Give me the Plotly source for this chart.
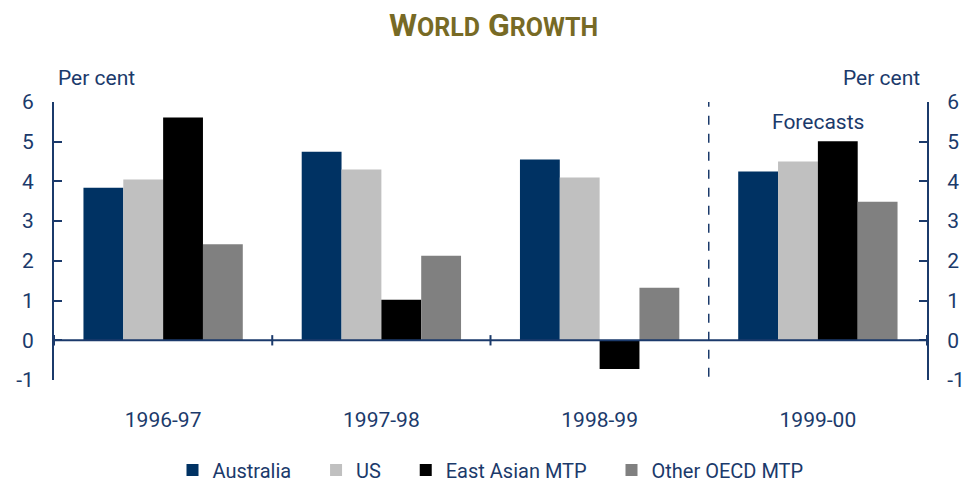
import plotly.graph_objects as go

categories = ["1996-97", "1997-98", "1998-99", "1999-00"]
australia = [3.84, 4.75, 4.55, 4.25]
us = [4.05, 4.30, 4.10, 4.50]
east_asian = [5.61, 1.02, -0.72, 5.01]
other_oecd = [2.42, 2.13, 1.32, 3.49]
y_ticks = [-1, 0, 1, 2, 3, 4, 5, 6]
y_ticktext = ["-1", "0", "1", "2", "3", "4", "5", "6"]
series_names = ["Australia", "US", "East Asian MTP", "Other OECD MTP"]

NAVY = "#1b3a6b"
FONT = "Roboto, Open Sans, sans-serif"
PAD = "\u00a0" * 4

series = [
    (series_names[0], australia, "#003263"),
    (series_names[1], us, "#c0c0c0"),
    (series_names[2], east_asian, "#000000"),
    (series_names[3], other_oecd, "#808080"),
]

fig = go.Figure()
xs = list(range(len(categories)))
for i, (name, vals, col) in enumerate(series):
    label = name + (PAD if i < len(series) - 1 else "")
    fig.add_trace(go.Bar(x=xs, y=vals, name=label, marker=dict(color=col, line=dict(width=0))))
# invisible trace to activate the right-hand axis
fig.add_trace(go.Scatter(x=[0], y=[0], yaxis="y2", mode="markers",
                         marker=dict(opacity=0), showlegend=False, hoverinfo="skip"))

shapes = [
    dict(type="line", xref="x", yref="y", x0=-0.5, x1=3.5, y0=0, y1=0,
         line=dict(color=NAVY, width=2)),
]
for xv in [-0.5, 0.5, 1.5, 3.5]:
    shapes.append(dict(type="line", xref="x", yref="y", x0=xv, x1=xv, y0=-0.13, y1=0.13,
                       line=dict(color=NAVY, width=2)))
shapes.append(dict(type="line", xref="x", yref="y", x0=2.5, x1=2.5, y0=-0.92, y1=6,
                   line=dict(color=NAVY, width=1.5, dash="dash")))

axis_common = dict(range=[-1, 6], tickvals=y_ticks, ticktext=y_ticktext,
                   ticks="inside", ticklen=8, tickwidth=2,
                   tickcolor=NAVY, showline=True, linecolor=NAVY, linewidth=2,
                   showgrid=False, zeroline=False, automargin=False,
                   tickfont=dict(family=FONT, size=21, color=NAVY), ticklabelstandoff=14)

fig.update_layout(
    width=966, height=482,
    margin=dict(l=54, r=39, t=102, b=102, autoexpand=False),
    paper_bgcolor="white", plot_bgcolor="white",
    barmode="group", bargap=0.27, bargroupgap=0,
    title=dict(text="<b>W<span style='font-size:25px'>ORLD</span> G<span style='font-size:25px'>ROWTH</span></b>",
               x=0.511, xanchor="center", y=0.948, yanchor="middle",
               font=dict(family=FONT, size=32, color="#776a25")),
    xaxis=dict(range=[-0.5, 3.5], tickvals=xs, ticktext=categories, showline=False,
               ticks="", showgrid=False, zeroline=False, automargin=False,
               tickfont=dict(family=FONT, size=21, color=NAVY), ticklabelstandoff=25),
    yaxis=dict(side="left", **axis_common),
    yaxis2=dict(side="right", overlaying="y", matches="y", **axis_common),
    shapes=shapes,
    legend=dict(orientation="h", x=0.5, xanchor="center", y=-0.324, yanchor="middle",
                font=dict(family=FONT, size=20, color=NAVY), itemwidth=30,
                bgcolor="rgba(0,0,0,0)"),
    annotations=[
        dict(text="Per cent", xref="paper", yref="paper", x=0.002, y=1.086,
             xanchor="left", yanchor="middle", showarrow=False,
             font=dict(family=FONT, size=21, color=NAVY)),
        dict(text="Per cent", xref="paper", yref="paper", x=0.994, y=1.086,
             xanchor="right", yanchor="middle", showarrow=False,
             font=dict(family=FONT, size=21, color=NAVY)),
        dict(text="Forecasts", xref="x", yref="y", x=3, y=5.5,
             xanchor="center", yanchor="middle", showarrow=False,
             font=dict(family=FONT, size=21, color=NAVY)),
    ],
    showlegend=True,
)

fig.write_html("out.html", config={"displayModeBar": False},
               post_script="document.body.style.margin='0';document.body.style.overflow='hidden';")
